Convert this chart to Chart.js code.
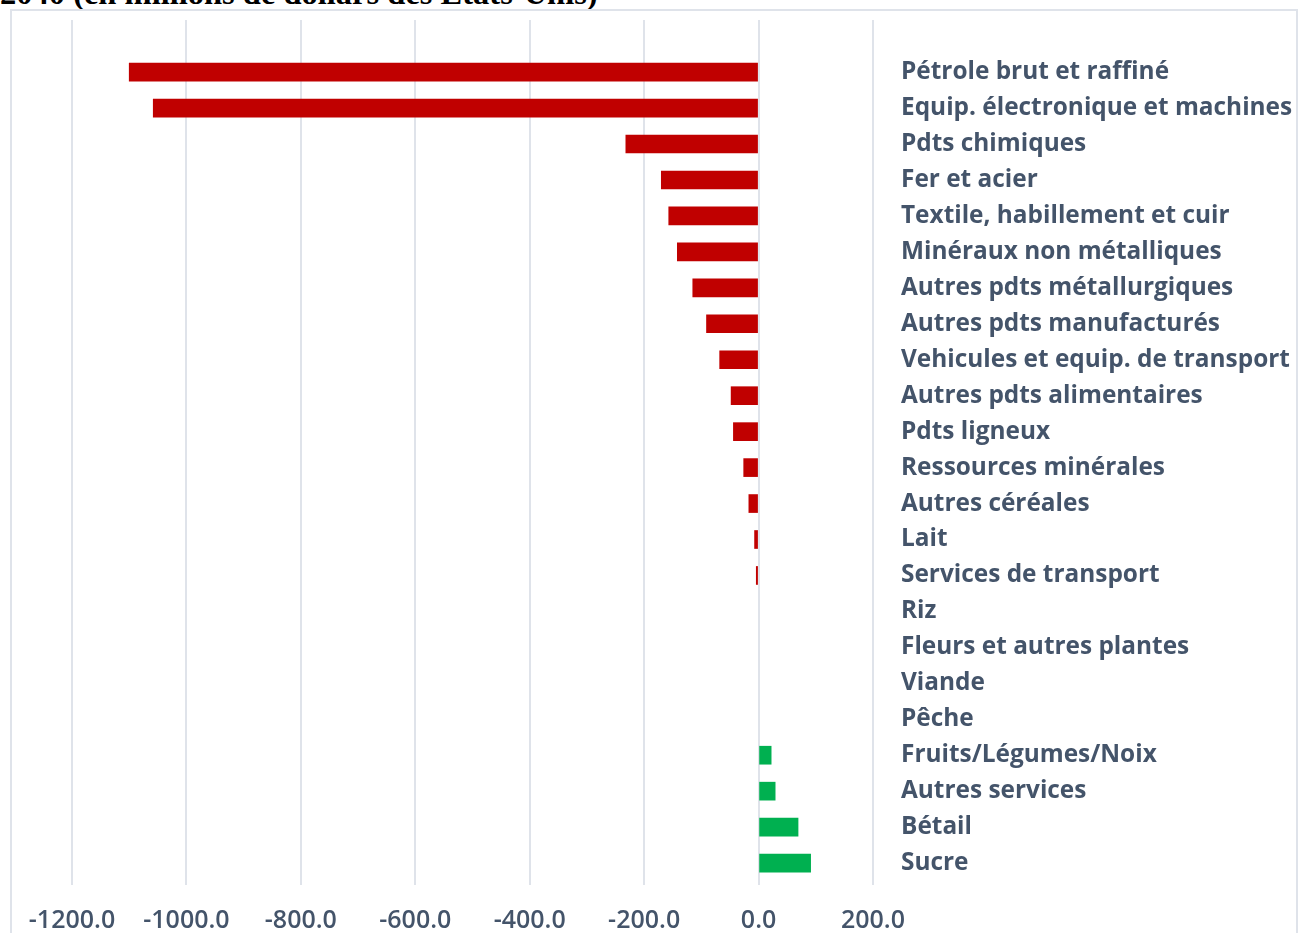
<!DOCTYPE html>
<html>
<head>
<meta charset="utf-8">
<script src="https://cdn.jsdelivr.net/npm/chart.js@4"></script>
<style>
  body { margin: 0; background: #fff; width: 1304px; height: 933px; overflow: hidden; position: relative; }
  #title { position: absolute; left: 0; top: -23px; font: bold 32.5px "Liberation Serif", serif; line-height: 32px; color: #000; white-space: nowrap; }
  #box { position: absolute; left: 10px; top: 9px; width: 1284px; height: 940px; border: 2px solid #dfe3ea; }
</style>
</head>
<body>
<div id="title">2040 (en millions de dollars des Etats-Unis)</div>
<div id="box"><canvas id="chart" width="1284" height="940"></canvas></div>
<script>
    // categories, top to bottom
    const produits = [
      'Pétrole brut et raffiné', 'Equip. électronique et machines', 'Pdts chimiques', 'Fer et acier',
      'Textile, habillement et cuir', 'Minéraux non métalliques', 'Autres pdts métallurgiques',
      'Autres pdts manufacturés', 'Vehicules et equip. de transport', 'Autres pdts alimentaires',
      'Pdts ligneux', 'Ressources minérales', 'Autres céréales', 'Lait', 'Services de transport',
      'Riz', 'Fleurs et autres plantes', 'Viande', 'Pêche', 'Fruits/Légumes/Noix',
      'Autres services', 'Bétail', 'Sucre'
    ];
    // variation (millions USD)
    const variation = [
      -1100, -1058, -232, -170, -157, -142, -115, -91, -68, -48,
      -44, -26, -17, -7, -4, 0, 0, 0, 0, 22, 29, 69, 91
    ];
    const xTicks = [-1200, -1000, -800, -600, -400, -200, 0, 200];

    const labelColor = '#44546A';
    const barColors = variation.map(v => v < 0 ? '#C00000' : (v > 0 ? '#00B050' : 'rgba(0,0,0,0)'));

    new Chart(document.getElementById('chart'), {
      type: 'bar',
      data: {
        datasets: [{
          data: variation.map((v, i) => ({ x: v, y: i })),
          backgroundColor: barColors,
          barThickness: 18
        }]
      },
      options: {
        indexAxis: 'y',
        responsive: false,
        animation: false,
        layout: { padding: { left: 60, top: 9, right: 0, bottom: 0 } },
        plugins: { legend: { display: false }, tooltip: { enabled: false } },
        scales: {
          x: {
            type: 'linear',
            min: xTicks[0],
            max: xTicks[xTicks.length - 1],
            afterBuildTicks: s => { s.ticks = xTicks.map(v => ({ value: v })); },
            grid: { color: '#dfe3ea', lineWidth: 2, drawTicks: false },
            border: { display: false },
            ticks: {
              padding: 21,
              color: labelColor,
              font: { family: 'Open Sans', size: 25, weight: '600' },
              callback: v => v.toFixed(1)
            },
            afterFit: s => { s.height = 66; s.paddingLeft = 0; s.paddingRight = 0; }
          },
          y: {
            type: 'linear',
            position: 'right',
            reverse: true,
            offset: false,
            min: -1.45,
            max: 22.61,
            afterBuildTicks: s => { s.ticks = produits.map((_, i) => ({ value: i })); },
            grid: { display: false, offset: false },
            border: { display: false },
            ticks: {
              padding: 20,
              crossAlign: 'near',
              color: labelColor,
              font: { family: 'Open Sans', size: 24.4, weight: 'bold' },
              callback: v => produits[v]
            },
            afterFit: s => { s.width = 423; s.paddingTop = 0; s.paddingBottom = 0; }
          }
        }
      }
    });
</script>
</body>
</html>
